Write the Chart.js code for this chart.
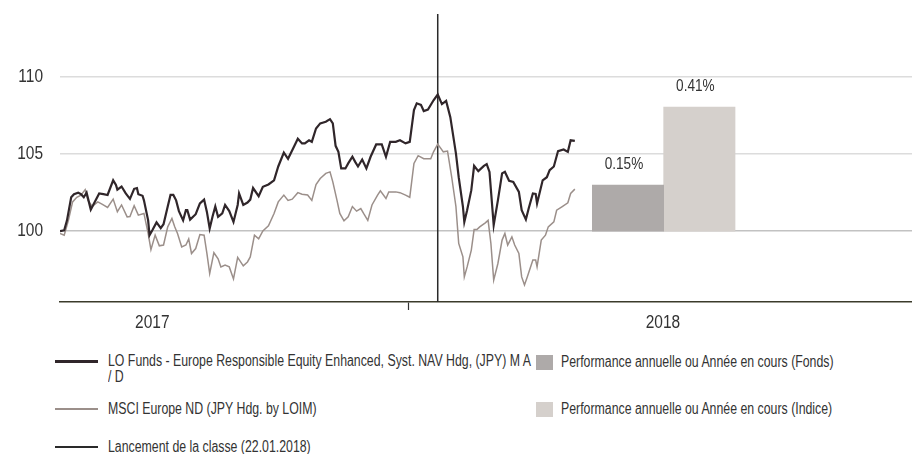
<!DOCTYPE html>
<html>
<head>
<meta charset="utf-8">
<script src="https://cdn.jsdelivr.net/npm/chart.js@4.4.1/dist/chart.umd.min.js"></script>
<style>
  body { margin: 0; background: #fff; }
  #wrap { position: relative; width: 912px; height: 454px; color: #333;
    font-family: 'Liberation Sans', Arial, sans-serif; }
  #box { position: absolute; left: 0; top: 0; width: 912px; height: 340px; }
  /* the source uses a condensed face: squeeze a regular one */
  .txt { position: absolute; font-size: 16px; line-height: 16px; white-space: normal;
    transform: scaleX(0.77); transform-origin: 0 0; }
  .swl { position: absolute; left: 55px; width: 43px; }
  .sws { position: absolute; left: 536px; width: 17px; height: 15px; }
</style>
</head>
<body>
<div id="wrap">
  <div id="box"><canvas id="perfChart"></canvas></div>
  <div id="legend"></div>
</div>
<script>
// x values are days counted from 1 Jan 2018
const fundDays = [-249,-246,-244,-241,-239,-236,-234,-232,-230,-227,
  -225,-221,-218,-215,-211,-209,-208,-205,-202,-199,
  -196,-194,-193,-190,-189,-186,-185,-183,-180,-177,
  -175,-172,-170,-168,-166,-164,-161,-159,-158,-156,
  -152,-149,-146,-144,-142,-140,-138,-136,-133,-131,
  -128,-125,-122,-121,-118,-115,-113,-111,-107,-104,
  -100,-96,-93,-89,-86,-83,-79,-76,-74,-71,
  -69,-66,-63,-59,-56,-54,-52,-50,-48,-45,
  -43,-40,-38,-36,-33,-30,-27,-23,-19,-16,
  -13,-9,-6,-2,1,4,6,9,11,14,
  18,21,24,27,30,34,36,39,40,42,
  45,47,50,54,56,58,61,64,67,69,
  72,75,79,81,84,86,89,91,92,96,
  99,101,104,107,111,114,116,119]
const fundValues = [100.0,100.06,100.7,102.2,102.4,102.5,102.4,102.2,102.5,101.4,
  101.75,102.45,102.4,102.35,103.3,103.0,102.7,102.9,102.45,102.1,
  102.75,102.8,102.4,102.3,102.0,100.7,99.74,100.06,100.57,100.2,
  100.45,101.6,102.35,102.35,102.0,101.3,100.7,101.36,101.36,100.75,
  101.1,101.8,102.05,101.25,100.17,100.93,101.6,100.93,101.15,101.7,
  101.3,100.6,101.7,102.45,101.7,101.86,102.05,102.8,102.27,102.88,
  103.03,103.3,104.2,105.1,104.7,105.26,106.0,105.7,105.7,105.9,
  105.8,106.67,107.0,107.1,107.27,107.0,105.54,105.15,104.07,104.07,
  104.4,104.83,104.5,104.2,104.65,104.07,104.83,105.63,105.63,104.83,
  105.8,105.8,105.9,105.7,105.8,107.86,108.3,108.2,107.8,107.9,
  108.5,108.87,108.25,108.46,107.4,105.05,103.5,101.6,100.6,101.36,
  102.66,104.24,103.9,104.24,104.35,103.85,100.39,102.0,103.75,103.85,
  103.27,103.2,102.55,101.36,100.76,101.47,102.45,102.42,101.8,103.3,
  103.5,103.96,104.2,105.2,105.3,105.15,105.9,105.86]

const indexDays = [-249,-246,-243,-240,-237,-234,-231,-229,-226,-222,
  -219,-215,-211,-208,-205,-201,-199,-196,-193,-189,
  -186,-184,-181,-178,-175,-172,-169,-167,-165,-162,
  -159,-157,-155,-152,-149,-146,-144,-142,-139,-136,
  -134,-131,-128,-125,-122,-118,-115,-113,-110,-107,
  -104,-100,-96,-93,-89,-86,-83,-79,-76,-72,
  -69,-66,-63,-59,-56,-54,-51,-49,-46,-43,
  -40,-37,-34,-32,-29,-26,-22,-20,-16,-14,
  -9,-6,-2,1,4,7,11,16,18,21,
  25,28,31,34,36,39,40,42,45,47,
  49,51,55,57,59,61,64,67,69,71,
  74,76,79,81,83,85,89,91,92,95,
  98,100,104,106,110,114,116,119]
const indexValues = [99.85,99.74,100.7,101.9,102.2,102.34,102.7,102.0,101.6,101.9,
  101.75,101.54,102.08,101.26,101.7,100.93,100.95,101.65,101.04,101.15,
  99.85,98.8,99.74,99.05,99.1,100.28,100.82,100.28,99.85,98.98,
  99.1,99.5,98.55,98.87,99.78,99.74,98.55,97.25,98.6,98.2,
  97.68,97.8,97.68,96.9,98.3,97.75,98.0,98.33,99.74,99.5,
  100.02,100.35,101.15,101.9,102.34,102.0,102.08,102.5,102.4,102.35,
  102.0,103.03,103.42,103.75,103.85,103.2,102.0,101.15,100.67,100.93,
  101.6,101.3,101.47,101.15,100.7,101.7,102.34,102.62,102.12,102.55,
  102.55,102.5,102.34,102.2,104.4,104.9,104.7,104.7,105.15,105.65,
  105.15,105.2,103.5,101.6,99.2,98.33,97.03,97.68,98.77,100.1,
  100.1,100.28,100.54,100.7,99.2,96.82,97.9,99.42,99.85,99.1,
  99.63,99.1,98.55,97.03,96.5,97.03,98.12,98.12,97.68,99.42,
  99.74,100.28,100.6,101.36,101.6,101.84,102.45,102.73]

// launch of the share class, 22.01.2018
const launchDay = 21

// yearly performance bars (2018 YTD), drawn from base 100
const perfDays = [157, 208]
const perfTops = [102.99, 108.05]
const perfLabels = ['0.15%', '0.41%']

const tickDays = [-183, 0, 182]
const tickLabels = ['2017', '', '2018']
const yTicks = [100, 105, 110]
const yMin = 95.4
const yMax = 114.1

const labels = [
  'LO Funds - Europe Responsible Equity Enhanced, Syst. NAV Hdg, (JPY) M A /\u00a0D',
  'MSCI Europe ND (JPY Hdg. by LOIM)',
  'Lancement de la classe (22.01.2018)',
  'Performance annuelle ou Année en cours (Fonds)',
  'Performance annuelle ou Année en cours (Indice)'
]

const FONT = "'Liberation Sans', Arial, sans-serif"
Chart.defaults.font.family = FONT
Chart.defaults.color = '#333'

const toPoints = (xs, ys) => xs.map((x, i) => ({ x, y: ys[i] }))

// condensed text: regular face squeezed horizontally
function squeeze (c, text, x, y, sx, align) {
  c.save()
  c.translate(x, y)
  c.scale(sx, 1)
  c.textAlign = align
  c.fillText(text, 0, 0)
  c.restore()
}

// axis labels and value labels above the bars
const textLayer = {
  id: 'textLayer',
  afterDatasetsDraw (chart) {
    const c = chart.ctx
    const { x, y } = chart.scales
    c.save()
    c.fillStyle = '#333'
    c.textBaseline = 'middle'
    c.font = '18px ' + FONT
    y.ticks.forEach(t => squeeze(c, String(t.value), 43, y.getPixelForValue(t.value), 0.86, 'right'))
    x.ticks.forEach(t => {
      const lab = tickLabels[tickDays.indexOf(t.value)]
      if (lab) squeeze(c, lab, x.getPixelForValue(t.value), x.top + 21, 0.86, 'center')
    })
    c.font = '16px ' + FONT
    chart.data.datasets.forEach((ds, i) => {
      if (ds.type !== 'bar') return
      const bar = chart.getDatasetMeta(i).data[0]
      squeeze(c, ds.valueLabel, bar.x - 4, bar.y - 21, 0.85, 'center')
    })
    c.restore()
  }
}

const ctx = document.getElementById('perfChart').getContext('2d')
const chart = new Chart(ctx, {
  type: 'line',
  data: {
    datasets: [
      {
        label: labels[0],
        data: toPoints(fundDays, fundValues),
        borderColor: '#30262a',
        borderWidth: 2.2,
        pointRadius: 0,
        tension: 0
      },
      {
        label: labels[1],
        data: toPoints(indexDays, indexValues),
        borderColor: '#9b8f8a',
        borderWidth: 1.5,
        pointRadius: 0,
        tension: 0
      },
      {
        label: labels[2],
        data: [{ x: launchDay, y: yMin }, { x: launchDay, y: yMax }],
        borderColor: '#2a2a2a',
        borderWidth: 1.5,
        pointRadius: 0
      },
      {
        type: 'bar',
        label: labels[3],
        data: [{ x: perfDays[0], y: [100, perfTops[0]] }],
        valueLabel: perfLabels[0],
        backgroundColor: '#aeaaa9',
        barPercentage: 1,
        categoryPercentage: 1,
        grouped: false
      },
      {
        type: 'bar',
        label: labels[4],
        data: [{ x: perfDays[1], y: [100, perfTops[1]] }],
        valueLabel: perfLabels[1],
        backgroundColor: '#d5d0cc',
        barPercentage: 1,
        categoryPercentage: 1,
        grouped: false
      }
    ]
  },
  options: {
    animation: false,
    responsive: true,
    maintainAspectRatio: false,
    layout: { padding: { top: 14, right: 0, left: 0, bottom: 0 } },
    plugins: {
      legend: { display: false },
      tooltip: { enabled: false }
    },
    scales: {
      x: {
        type: 'linear',
        min: -249,
        max: 360,
        offset: false,
        afterBuildTicks: (s) => { s.ticks = tickDays.map(v => ({ value: v })) },
        afterFit: (s) => { s.height = 38; s.paddingLeft = 0; s.paddingRight = 0 },
        ticks: { display: false },
        grid: {
          offset: false,
          drawOnChartArea: false,
          drawTicks: true,
          tickLength: 8,
          tickWidth: 1.2,
          tickColor: (c) => (c.tick && c.tick.value === 0 ? '#333' : 'rgba(0,0,0,0)')
        },
        border: { display: true, color: '#3b3b2b', width: 1.5 }
      },
      y: {
        min: yMin,
        max: yMax,
        afterBuildTicks: (s) => { s.ticks = yTicks.map(v => ({ value: v })) },
        afterFit: (s) => { s.width = 60; s.paddingTop = 0; s.paddingBottom = 0 },
        ticks: { display: false },
        grid: {
          drawTicks: false,
          lineWidth: 1.5,
          color: (c) => (c.tick && c.tick.value === 100 ? '#c2c2c2' : '#dcdcdc')
        },
        border: { display: false }
      }
    }
  },
  plugins: [textLayer]
})

// html legend built from the datasets
const legend = document.getElementById('legend')
const ds = chart.data.datasets
const lineRows = [{ i: 0, top: 353, w: 3 }, { i: 1, top: 401, w: 2 }, { i: 2, top: 439, w: 1.5 }]
lineRows.forEach(r => {
  const sw = document.createElement('div')
  sw.className = 'swl'
  sw.style.top = (r.top + 8 - r.w / 2) + 'px'
  sw.style.height = r.w + 'px'
  sw.style.background = ds[r.i].borderColor
  legend.appendChild(sw)
  const t = document.createElement('div')
  t.className = 'txt'
  t.style.left = '108px'
  t.style.top = r.top + 'px'
  t.style.width = '556px'
  t.textContent = ds[r.i].label
  legend.appendChild(t)
})
const boxRows = [{ i: 3, top: 354 }, { i: 4, top: 401 }]
boxRows.forEach(r => {
  const sw = document.createElement('div')
  sw.className = 'sws'
  sw.style.top = (r.top + 1) + 'px'
  sw.style.background = ds[r.i].backgroundColor
  legend.appendChild(sw)
  const t = document.createElement('div')
  t.className = 'txt'
  t.style.left = '561px'
  t.style.top = r.top + 'px'
  t.style.whiteSpace = 'nowrap'
  t.textContent = ds[r.i].label
  legend.appendChild(t)
})
</script>
</body>
</html>
